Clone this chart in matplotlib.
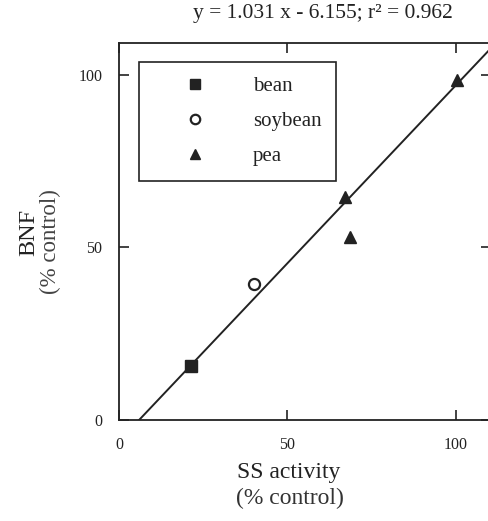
import numpy as np
import matplotlib
matplotlib.use("Agg")
import matplotlib.pyplot as plt

plt.rcParams['font.family'] = ['Liberation Serif', 'DejaVu Serif']

# data
bean_x = [21.5]
bean_y = [15.5]
soy_x = [40.0]
soy_y = [39.5]
pea_x = [67.0, 68.5, 100.5]
pea_y = [64.5, 53.0, 98.5]

slope = 1.031
intercept = -6.155
r2 = 0.962

fig = plt.figure(figsize=(4.88, 5.21), dpi=100)
ax = fig.add_axes([0.244, 0.194, 0.762, 0.7236])

# regression line, starts at y=0
xl = np.array([-intercept / slope, 120])
ax.plot(xl, slope * xl + intercept, color='#222222', lw=1.4, zorder=2)

ax.plot(bean_x, bean_y, 's', color='#222222', ms=9, ls='none', label='bean', zorder=3)
ax.plot(soy_x, soy_y, 'o', mfc='white', mec='#222222', mew=1.6, ms=8, ls='none', label='soybean', zorder=3)
ax.plot(pea_x, pea_y, '^', color='#222222', ms=9, ls='none', label='pea', zorder=3)

ax.set_xlim(0, 110.5)
ax.set_ylim(0, 109.3)
ax.set_xticks([0, 50, 100])
ax.set_yticks([0, 50, 100])
ax.tick_params(direction='in', length=7, width=1.2, top=True, right=True,
               labelsize=11.5, pad=12, colors='#222222')
for s in ax.spines.values():
    s.set_linewidth(1.3)
    s.set_color('#222222')

leg = ax.legend(loc='upper left', bbox_to_anchor=(0.054, 0.95), fancybox=False,
                edgecolor='#222222', fontsize=15, handletextpad=0.75,
                borderpad=0.7, labelspacing=0.75, handlelength=4,
                borderaxespad=0, framealpha=1, markerscale=0.85)
leg.get_frame().set_linewidth(1.2)
for t in leg.get_texts():
    t.set_color('#222222')

fig.text(0.662, 0.975, 'y = %.3f x - %.3f; r\u00b2 = %.3f' % (slope, -intercept, r2),
         ha='center', va='center', fontsize=15.5, color='#222222')

fig.text(0.592, 0.094, 'SS activity', ha='center', va='center', fontsize=17, color='#222222')
fig.text(0.594, 0.043, '(% control)', ha='center', va='center', fontsize=17, color='#333333')
fig.text(0.058, 0.553, 'BNF', ha='center', va='center', rotation=90, fontsize=17.5, color='#222222')
fig.text(0.104, 0.537, '(% control)', ha='center', va='center', rotation=90, fontsize=16.5, color='#444444')

fig.savefig('out.png', dpi=100)
